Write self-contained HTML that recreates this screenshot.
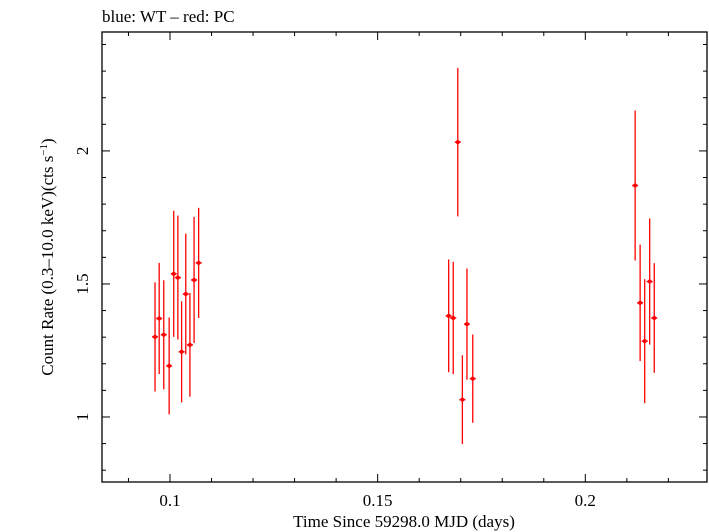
<!DOCTYPE html>
<html><head><meta charset="utf-8"><style>
body{margin:0;background:#fff;}
svg{display:block;font-family:"Liberation Serif",serif;}
</style></head><body>
<svg id="chart" width="709" height="532" viewBox="0 0 709 532" xmlns="http://www.w3.org/2000/svg">
<rect width="709" height="532" fill="#fff"/>
<text x="102" y="22" font-size="17">blue: WT – red: PC</text>
<text x="404" y="527" font-size="17" text-anchor="middle">Time Since 59298.0 MJD (days)</text>
<text transform="translate(53,257) rotate(-90)" font-size="17" text-anchor="middle">Count Rate (0.3–10.0 keV)(cts s<tspan font-size="11" dy="-6">−1</tspan><tspan dy="6">)</tspan></text>
<g id="axes"></g>
<g id="marks"></g>
<rect x="102" y="32" width="605" height="450" fill="none" stroke="#000" stroke-width="1.3"/>
</svg>
<script>
const times = [0.0964,0.0974,0.0985,0.0998,0.1009,0.1019,0.1028,0.1038,0.1048,0.1058,0.1069,
  0.1671,0.1682,0.1693,0.1704,0.1715,0.1729,
  0.2120,0.2132,0.2143,0.2155,0.2166];
const rates = [1.301,1.370,1.309,1.192,1.538,1.524,1.245,1.462,1.271,1.515,1.579,
  1.380,1.372,2.033,1.065,1.349,1.144,
  1.870,1.429,1.285,1.509,1.372];
const errs = [0.205,0.209,0.205,0.182,0.237,0.233,0.190,0.227,0.195,0.237,0.207,
  0.212,0.211,0.279,0.167,0.209,0.166,
  0.282,0.219,0.233,0.237,0.206];
const xTickLabels = ["0.1","0.15","0.2"];
const yTickLabels = ["1","1.5","2"];

const X0=102,X1=707,Y0=32,Y1=482;
const xMin=0.08363,xMax=0.2293,yMin=0.7556,yMax=2.447;
const sx=v=>X0+(v-xMin)/(xMax-xMin)*(X1-X0);
const sy=v=>Y1-(v-yMin)/(yMax-yMin)*(Y1-Y0);
const NS="http://www.w3.org/2000/svg";
function mk(tag,attrs,parent){const e=document.createElementNS(NS,tag);for(const k in attrs)e.setAttribute(k,attrs[k]);parent.appendChild(e);return e;}
const axes=document.getElementById('axes'), marks=document.getElementById('marks');

for(let i=9;i<=22;i++){
  const v=i/100; if(v<xMin||v>xMax) continue;
  const x=sx(v); const major=(i%5===0); const L=major?8:4;
  const t1=mk('line',{x1:x,y1:Y1,x2:x,y2:Y1-L,stroke:'#000','stroke-width':1},axes);
  
  
  const t2=mk('line',{x1:x,y1:Y0,x2:x,y2:Y0+L,stroke:'#000','stroke-width':1},axes);
  
  
}
xTickLabels.forEach(s=>{
  const t=mk('text',{x:sx(parseFloat(s)),y:506,'font-size':17,'text-anchor':'middle'},axes);
  t.textContent=s;
  
  
});
for(let i=8;i<=24;i++){
  const v=i/10; if(v<yMin||v>yMax) continue;
  const y=sy(v); const major=(i%5===0); const L=major?8:4;
  const t1=mk('line',{x1:X0,y1:y,x2:X0+L,y2:y,stroke:'#000','stroke-width':1},axes);
  
  
  const t2=mk('line',{x1:X1,y1:y,x2:X1-L,y2:y,stroke:'#000','stroke-width':1},axes);
  
  
}
yTickLabels.forEach(s=>{
  const t=mk('text',{transform:`translate(88,${sy(parseFloat(s))}) rotate(-90)`,'font-size':17,'text-anchor':'middle'},axes);
  t.textContent=s;
  
  
});
times.forEach((t,i)=>{
  const g=mk('g',{},marks);
  
  
  const x=sx(t), y=sy(rates[i]);
  mk('line',{x1:x,y1:sy(rates[i]+errs[i]),x2:x,y2:sy(rates[i]-errs[i]),stroke:'#f00','stroke-width':1.3},g);
  mk('line',{x1:x-3,y1:y,x2:x+3,y2:y,stroke:'#f00','stroke-width':1.5},g);
  mk('circle',{cx:x,cy:y,r:2,fill:'#f00'},g);
});
</script>
</body></html>
